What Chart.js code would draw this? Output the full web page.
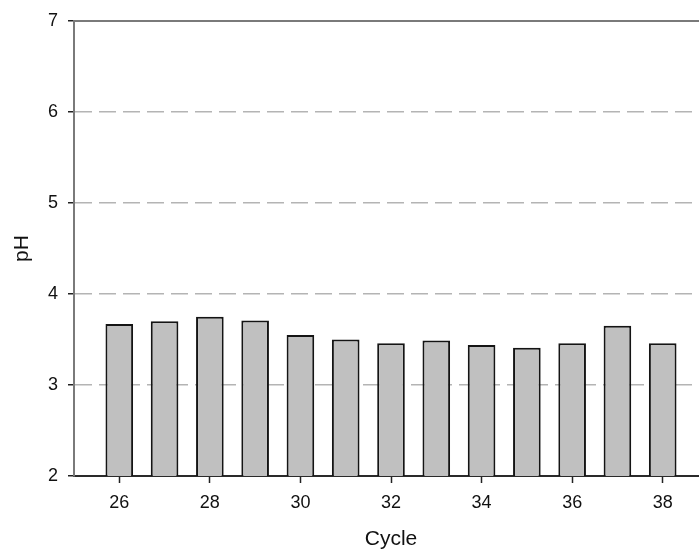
<!DOCTYPE html>
<html>
<head>
<meta charset="utf-8">
<script src="https://cdn.jsdelivr.net/npm/chart.js@4"></script>
<style>
  html, body { margin: 0; padding: 0; background: #fff; overflow: hidden; width: 699px; height: 552px; }
  #wrap { width: 712px; height: 552px; }
</style>
</head>
<body>
<div id="wrap"><canvas id="c" width="712" height="552"></canvas></div>
<script>
const cycles = [26, 27, 28, 29, 30, 31, 32, 33, 34, 35, 36, 37, 38];
const phValues = [3.67, 3.70, 3.75, 3.71, 3.55, 3.50, 3.46, 3.49, 3.44, 3.41, 3.46, 3.65, 3.46];
const xTicks = [26, 28, 30, 32, 34, 36, 38];
const yTicks = [2, 3, 4, 5, 6, 7];
const gridValues = [3, 4, 5, 6];
const xTitle = 'Cycle';
const yTitle = 'pH';

const FONT = 'Arial, "Liberation Sans", sans-serif';

const topBorder = {
  id: 'topBorder',
  afterDatasetsDraw(chart) {
    const { ctx, chartArea } = chart;
    ctx.save();
    ctx.strokeStyle = '#7a7a7a';
    ctx.lineWidth = 2;
    ctx.beginPath();
    ctx.moveTo(chartArea.left - 1, chartArea.top);
    ctx.lineTo(chartArea.right, chartArea.top);
    ctx.stroke();
    ctx.restore();
  }
};

new Chart(document.getElementById('c'), {
  type: 'bar',
  data: {
    datasets: [{
      data: cycles.map((c, i) => ({ x: c, y: phValues[i] })),
      backgroundColor: '#c0c0c0',
      borderColor: '#141414',
      borderWidth: 2,
      borderSkipped: 'start',
      barPercentage: 0.61,
      categoryPercentage: 1
    }]
  },
  options: {
    responsive: false,
    animation: false,
    layout: { padding: { top: 21, right: 4, left: 0, bottom: 0 } },
    plugins: { legend: { display: false }, tooltip: { enabled: false } },
    scales: {
      x: {
        type: 'linear',
        min: 25,
        max: 39,
        offset: false,
        afterFit: s => { s.height = 76; },
        afterBuildTicks: s => { s.ticks = xTicks.map(v => ({ value: v })); },
        ticks: { font: { family: FONT, size: 18 }, color: '#111', padding: 9, maxRotation: 0, autoSkip: false },
        grid: { offset: false, drawOnChartArea: false, drawTicks: true, tickLength: 7, tickColor: '#222', tickWidth: 1.5 },
        border: { display: true, color: '#2a2a2a', width: 2 },
        title: { display: true, text: xTitle, font: { family: FONT, size: 21 }, color: '#111', padding: { top: 0, bottom: 0 } }
      },
      y: {
        min: 2,
        max: 7,
        afterFit: s => { s.width = 74; },
        afterBuildTicks: s => { s.ticks = yTicks.map(v => ({ value: v })); },
        ticks: { font: { family: FONT, size: 18 }, color: '#111', padding: 10 },
        grid: {
          drawOnChartArea: true,
          drawTicks: true,
          tickLength: 6,
          tickColor: '#222',
          tickWidth: 1.5,
          tickBorderDash: [],
          lineWidth: 1.5,
          color: ctx => (ctx.tick && gridValues.includes(ctx.tick.value)) ? '#b4b4b4' : 'rgba(0,0,0,0)'
        },
        border: { display: true, color: '#7a7a7a', width: 2, dash: [17, 7], dashOffset: 0 },
        title: { display: true, text: yTitle, font: { family: FONT, size: 21 }, color: '#111', padding: { top: 10, bottom: 0 } }
      }
    }
  },
  plugins: [topBorder]
});
</script>
</body>
</html>
